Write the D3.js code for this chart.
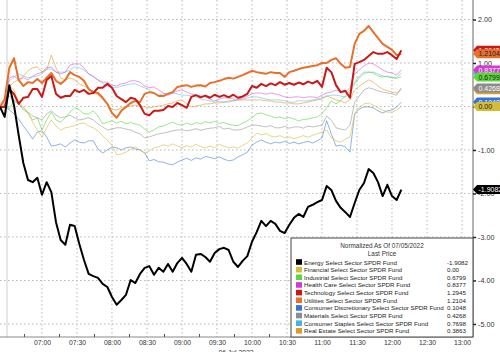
<!DOCTYPE html>
<html>
<head>
<meta charset="utf-8">
<script src="https://cdn.jsdelivr.net/npm/d3@7"></script>
<style>
body { margin: 0; background: #fff; }
text { font-family: "Liberation Sans", Arial, sans-serif; }
</style>
</head>
<body>
<div id="chart"></div>
<script>
const svgWidth = 500, svgHeight = 352;
const plotRight = 473, plotBottom = 337;

// one reading every 4 minutes starting 06:24 on 06 Jul 2022
const startHour = 6, startMin = 24, stepMinutes = 4;

const tickLabels = ["07:00","07:30","08:00","08:30","09:00","09:30","10:00","10:30","11:00","11:30","12:00","12:30","13:00"];
const yTicks = [2, 1, 0, -1, -2, -3, -4, -5];

const fundNames = [
    "Energy Select Sector SPDR Fund",
    "Financial Select Sector SPDR Fund",
    "Industrial Select Sector SPDR Fund",
    "Health Care Select Sector SPDR Fund",
    "Technology Select Sector SPDR Fund",
    "Utilities Select Sector SPDR Fund",
    "Consumer Discretionary Select Sector SPDR Fund",
    "Materials Select Sector SPDR Fund",
    "Consumer Staples Select Sector SPDR Fund",
    "Real Estate Select Sector SPDR Fund"
];
const lastPrices = ["-1.9082","0.00","0.6799","0.8377","1.2945","1.2104","0.1048","0.4268","0.7698","0.3863"];
const lastValues = [-1.9082, 0.00, 0.6799, 0.8377, 1.2945, 1.2104, 0.1048, 0.4268, 0.7698, 0.3863];

const energy = [-0.01,-0.24,0.49,0.03,-0.66,-1.30,-1.69,-1.74,-1.64,-2.03,
    -1.74,-1.97,-2.66,-3.07,-3.18,-2.72,-2.75,-3.16,-3.53,-3.85,
    -3.90,-3.94,-4.08,-4.15,-4.38,-4.56,-4.45,-4.33,-3.99,-4.06,
    -3.85,-3.71,-3.67,-3.87,-3.71,-3.80,-3.62,-3.80,-3.60,-3.48,
    -3.62,-3.80,-3.41,-3.39,-3.46,-3.57,-3.37,-3.28,-3.25,-3.30,
    -3.57,-3.69,-3.55,-3.44,-3.11,-2.89,-2.63,-2.75,-2.63,-2.70,
    -2.86,-2.91,-2.72,-2.56,-2.47,-2.54,-2.31,-2.26,-2.20,-2.15,
    -1.83,-1.92,-2.17,-2.33,-2.43,-2.54,-2.22,-1.92,-1.76,-1.44,
    -1.53,-1.74,-2.06,-1.80,-2.06,-2.15,-1.91];
const financial = [-0.01,0.15,0.47,0.38,0.10,-0.01,-0.15,-0.36,-0.54,-0.70,
    -0.49,-0.31,-0.45,-0.54,-0.49,-0.47,-0.44,-0.40,-0.38,-0.45,
    -0.49,-0.56,-0.68,-0.77,-0.89,-1.11,-1.09,-1.05,-0.98,-0.93,
    -1.00,-1.07,-1.02,-0.95,-0.93,-0.88,-0.91,-0.86,-0.91,-0.95,
    -0.90,-0.93,-0.87,-0.92,-0.95,-0.91,-0.95,-0.87,-0.91,-0.95,
    -0.93,-0.96,-0.89,-0.84,-0.72,-0.61,-0.65,-0.62,-0.68,-0.70,
    -0.67,-0.72,-0.70,-0.74,-0.71,-0.67,-0.71,-0.66,-0.63,-0.59,
    -0.54,-0.72,-0.79,-0.82,-0.75,-0.70,-0.17,-0.01,0.06,0.08,
    0.03,-0.03,-0.08,-0.13,-0.13,-0.08,0.00];
const industrial = [-0.01,0.08,-0.06,0.13,0.06,-0.08,-0.15,-0.31,-0.26,-0.54,
    -0.31,-0.13,-0.31,-0.36,-0.26,-0.13,-0.03,-0.08,-0.17,-0.17,
    -0.10,-0.22,-0.40,-0.36,-0.33,-0.38,-0.34,-0.40,-0.37,-0.40,
    -0.43,-0.52,-0.59,-0.54,-0.47,-0.45,-0.40,-0.36,-0.41,-0.43,
    -0.38,-0.42,-0.37,-0.40,-0.35,-0.38,-0.34,-0.39,-0.37,-0.41,
    -0.43,-0.44,-0.38,-0.33,-0.26,-0.17,-0.15,-0.19,-0.22,-0.26,
    -0.24,-0.28,-0.25,-0.29,-0.33,-0.30,-0.29,-0.26,-0.24,-0.17,
    -0.03,0.13,0.06,0.13,0.24,0.38,0.56,0.70,0.79,0.79,
    0.77,0.70,0.68,0.70,0.66,0.65,0.68];
const healthCare = [-0.01,0.15,0.66,0.70,0.61,0.66,0.61,0.70,0.75,0.79,
    0.89,0.91,0.79,0.75,0.79,0.95,0.98,0.98,0.89,0.75,
    0.68,0.61,0.56,0.56,0.49,0.47,0.52,0.54,0.59,0.59,
    0.56,0.47,0.43,0.45,0.38,0.31,0.26,0.31,0.36,0.38,
    0.33,0.29,0.26,0.24,0.22,0.17,0.13,0.17,0.20,0.20,
    0.17,0.17,0.20,0.24,0.29,0.31,0.31,0.28,0.31,0.29,
    0.26,0.22,0.20,0.22,0.22,0.20,0.22,0.22,0.20,0.26,
    0.31,0.33,0.38,0.33,0.33,0.43,0.75,0.84,0.93,1.00,
    0.98,0.91,0.84,0.79,0.77,0.72,0.84];
const technology = [-0.01,-0.01,0.40,0.29,0.06,0.20,0.22,0.40,0.40,0.22,
    0.61,0.70,0.29,0.20,0.24,0.24,0.38,0.33,0.38,0.29,
    0.31,0.43,0.43,0.52,0.43,0.24,0.17,0.10,0.20,0.17,
    0.03,-0.17,-0.20,-0.10,-0.10,-0.08,0.01,-0.01,0.08,0.03,
    -0.03,0.22,0.26,0.21,0.25,0.20,0.27,0.22,0.26,0.21,
    0.27,0.20,0.23,0.29,0.47,0.43,0.52,0.47,0.53,0.49,
    0.56,0.50,0.54,0.50,0.55,0.51,0.57,0.53,0.59,0.45,
    0.89,0.79,0.49,0.33,0.36,0.20,0.98,1.02,1.07,1.16,
    1.25,1.21,1.21,1.25,1.18,1.09,1.29];
const utilities = [-0.01,0.17,0.89,1.11,0.61,0.47,0.56,0.54,0.63,0.54,
    0.66,0.77,0.59,0.52,0.61,0.79,0.72,0.68,0.59,0.40,
    0.33,0.31,0.20,0.06,-0.15,-0.26,-0.10,-0.01,0.08,0.13,
    0.10,0.29,0.33,0.31,0.24,0.24,0.29,0.33,0.45,0.47,
    0.49,0.45,0.48,0.49,0.46,0.54,0.56,0.59,0.63,0.66,
    0.64,0.68,0.72,0.77,0.82,0.79,0.77,0.75,0.79,0.77,
    0.77,0.68,0.79,0.82,0.86,0.89,0.91,0.93,0.95,1.00,
    1.00,1.07,1.11,0.98,0.89,0.91,1.44,1.67,1.74,1.85,
    1.71,1.57,1.44,1.37,1.30,1.18,1.21];
const consumerDisc = [-0.01,0.03,-0.08,-0.17,-0.29,-0.45,-0.59,-0.75,-0.59,-0.56,
    -0.70,-0.91,-0.89,-0.86,-0.93,-0.84,-0.77,-0.82,-0.84,-0.79,
    -0.79,-0.98,-1.07,-1.00,-0.93,-0.95,-1.00,-0.95,-0.93,-0.98,
    -1.00,-1.07,-1.25,-1.22,-1.27,-1.28,-1.32,-1.34,-1.28,-1.23,
    -1.19,-1.24,-1.18,-1.21,-1.15,-1.17,-1.20,-1.16,-1.21,-1.25,
    -1.23,-1.16,-1.11,-1.05,-0.89,-0.82,-0.77,-0.82,-0.86,-0.82,
    -0.84,-0.80,-0.85,-0.82,-0.86,-0.83,-0.80,-0.84,-0.79,-0.72,
    -0.33,-0.63,-0.91,-0.89,-0.93,-1.05,-0.17,-0.06,-0.01,-0.01,
    -0.03,-0.10,-0.15,-0.10,-0.08,-0.01,0.10];
const materials = [-0.01,0.13,0.24,0.15,0.06,-0.03,-0.13,-0.22,-0.26,-0.31,
    -0.17,-0.10,-0.20,-0.26,-0.24,-0.20,-0.26,-0.31,-0.29,-0.26,
    -0.31,-0.40,-0.47,-0.54,-0.52,-0.49,-0.49,-0.52,-0.54,-0.59,
    -0.63,-0.72,-0.70,-0.66,-0.63,-0.61,-0.59,-0.56,-0.54,-0.54,
    -0.56,-0.54,-0.51,-0.55,-0.52,-0.50,-0.49,-0.46,-0.52,-0.50,
    -0.54,-0.54,-0.52,-0.47,-0.43,-0.43,-0.45,-0.47,-0.44,-0.49,
    -0.49,-0.46,-0.50,-0.47,-0.47,-0.50,-0.45,-0.47,-0.45,-0.43,
    -0.22,-0.31,-0.49,-0.52,-0.54,-0.43,0.10,0.24,0.38,0.43,
    0.40,0.36,0.33,0.31,0.29,0.26,0.43];
const consumerStaples = [-0.01,0.15,0.59,0.68,0.75,0.70,0.66,0.68,0.70,0.75,
    0.86,0.86,0.79,0.79,0.79,0.84,0.91,0.89,0.84,0.75,
    0.70,0.61,0.52,0.47,0.45,0.43,0.47,0.49,0.52,0.52,
    0.47,0.43,0.38,0.31,0.26,0.29,0.31,0.31,0.29,0.26,
    0.26,0.24,0.22,0.17,0.15,0.13,0.10,0.12,0.10,0.10,
    0.13,0.15,0.17,0.20,0.22,0.22,0.20,0.17,0.15,0.15,
    0.15,0.13,0.10,0.10,0.13,0.13,0.13,0.15,0.17,0.20,
    0.24,0.26,0.26,0.24,0.22,0.31,0.52,0.66,0.75,0.79,
    0.79,0.75,0.70,0.68,0.66,0.66,0.77];
const realEstate = [-0.01,0.15,0.47,0.56,0.61,0.70,0.82,0.89,0.91,0.79,
    0.84,1.18,0.89,0.66,0.61,0.66,0.61,0.52,0.47,0.40,
    0.33,0.26,0.17,0.06,-0.06,-0.08,-0.03,-0.01,0.01,0.03,
    0.01,-0.01,-0.03,-0.01,0.01,0.03,0.06,0.08,0.13,0.15,
    0.06,-0.01,0.01,0.03,0.06,0.06,0.08,0.08,0.10,0.13,
    0.13,0.15,0.15,0.15,0.15,0.15,0.15,0.13,0.13,0.10,
    0.10,0.08,0.08,0.06,0.06,0.08,0.10,0.13,0.15,0.17,
    0.24,0.20,0.15,0.13,0.08,0.15,0.38,0.47,0.54,0.61,
    0.56,0.47,0.40,0.36,0.33,0.31,0.39];

const seriesValues = [energy, financial, industrial, healthCare, technology, utilities,
    consumerDisc, materials, consumerStaples, realEstate];

// styling per fund (same order as fundNames)
const swatchColors = ["#000000","#d4bc3a","#5cd63c","#d03cd0","#c81818","#e8702a","#3474d4","#8c8c8c","#48b4e0","#e09a2a"];
const lineWidths   = [2, 1, 1, 1, 2, 2, 1, 1, 1, 1];
const lineOpacity  = [1, 0.6, 0.6, 0.5, 1, 1, 0.55, 0.55, 0.5, 0.6];
const tagText      = ["#fff","#222","#222","#fff","#fff","#222","#fff","#fff","#222","#222"];
const drawOrder    = [9, 8, 7, 6, 3, 2, 1, 5, 4, 0];
const tagOrder     = [4, 5, 8, 3, 2, 9, 7, 6, 1, 0];

const parseTime = d3.timeParse("%H:%M");
const day = t => { const p = parseTime(t); return new Date(2022, 6, 6, p.getHours(), p.getMinutes()); };
const times = energy.map((_, i) => new Date(2022, 6, 6, startHour, startMin + i * stepMinutes));

let svg = d3.select('#chart')
    .append('svg')
    .attr('width', svgWidth)
    .attr('height', svgHeight)
    .style('display', 'block');

svg.append('rect').attr('width', svgWidth).attr('height', svgHeight).attr('fill', '#fff');

// scales
let xScale = d3.scaleTime()
    .domain([new Date(2022, 6, 6, 6, 24), new Date(2022, 6, 6, 13, 9, 26)])
    .range([0, plotRight]);

let yScale = d3.scaleLinear()
    .domain([-5.3, 2.448])
    .range([plotBottom, 0]);

// grid
svg.append('g').selectAll('line')
    .data(yTicks)
    .join('line')
    .attr('x1', 0).attr('x2', plotRight)
    .attr('y1', d => yScale(d)).attr('y2', d => yScale(d))
    .attr('stroke', '#b8b8b8')
    .attr('stroke-dasharray', '1.5,2.5');

svg.append('g').selectAll('line')
    .data(tickLabels.map(day))
    .join('line')
    .attr('x1', d => xScale(d)).attr('x2', d => xScale(d))
    .attr('y1', 0).attr('y2', plotBottom)
    .attr('stroke', '#b8b8b8')
    .attr('stroke-dasharray', '1.5,2.5');

// session start marker
svg.append('line')
    .attr('x1', xScale(day("06:30"))).attr('x2', xScale(day("06:30")))
    .attr('y1', 0).attr('y2', plotBottom)
    .attr('stroke', '#cfcfcf');

// lines
let line = d3.line()
    .x((d, i) => xScale(times[i]))
    .y(d => yScale(d));

svg.append('g').selectAll('path')
    .data(drawOrder)
    .join('path')
    .attr('d', k => line(seriesValues[k]))
    .attr('fill', 'none')
    .attr('stroke', k => swatchColors[k])
    .attr('stroke-width', k => lineWidths[k])
    .attr('stroke-opacity', k => lineOpacity[k])
    .attr('stroke-linejoin', 'round');

// x axis
svg.append('line')
    .attr('x1', 0).attr('x2', plotRight)
    .attr('y1', plotBottom).attr('y2', plotBottom)
    .attr('stroke', '#8a8a8a');

let quarterTicks = d3.timeMinute.every(15).range(day("06:45"), day("13:05"))
    .filter(d => d.getMinutes() % 30 !== 0);
svg.append('g').selectAll('line')
    .data(quarterTicks)
    .join('line')
    .attr('x1', d => xScale(d)).attr('x2', d => xScale(d))
    .attr('y1', plotBottom).attr('y2', plotBottom - 3)
    .attr('stroke', '#555');

svg.append('g')
    .attr('transform', `translate(0,${plotBottom})`)
    .call(d3.axisBottom(xScale).tickValues(tickLabels.map(day)).tickFormat(d3.timeFormat("%H:%M")).tickSize(0).tickPadding(3))
    .call(g => g.select('.domain').remove())
    .selectAll('text')
    .attr('font-size', 6.8)
    .attr('fill', '#333')
    .style('font-family', '"Liberation Sans", Arial, sans-serif');

svg.append('text')
    .attr('x', 236).attr('y', 355)
    .attr('text-anchor', 'middle')
    .attr('font-size', 6.8)
    .attr('fill', '#333')
    .text('06 Jul 2022');

// right axis
svg.append('line')
    .attr('x1', plotRight).attr('x2', plotRight)
    .attr('y1', 0).attr('y2', plotBottom)
    .attr('stroke', '#9a9a9a')
    .attr('stroke-width', 1.5);

svg.append('g')
    .attr('transform', `translate(${plotRight},0)`)
    .call(d3.axisRight(yScale).tickValues(yTicks).tickFormat(d => d.toFixed(2)).tickSize(3).tickPadding(2))
    .call(g => g.select('.domain').remove())
    .call(g => g.selectAll('line').attr('stroke', '#222').attr('stroke-width', 1.5))
    .selectAll('text')
    .attr('font-size', 7.2)
    .attr('fill', '#333')
    .style('font-family', '"Liberation Sans", Arial, sans-serif');

// last value tags
let tags = svg.append('g').selectAll('g')
    .data(tagOrder)
    .join('g')
    .attr('transform', k => `translate(${plotRight},${yScale(lastValues[k])})`);

tags.append('path')
    .attr('d', 'M0,0 L4,-4.5 L30,-4.5 L30,4.5 L4,4.5 Z')
    .attr('fill', k => swatchColors[k]);

tags.append('text')
    .attr('x', 5.5).attr('y', 2.6)
    .attr('font-size', 7)
    .attr('fill', k => tagText[k])
    .text(k => lastPrices[k]);

// legend
let legend = svg.append('g').attr('transform', 'translate(291,238)');

legend.append('rect')
    .attr('width', 182).attr('height', 99)
    .attr('fill', '#fff')
    .attr('stroke', '#444');

legend.append('text')
    .attr('x', 91).attr('y', 10)
    .attr('text-anchor', 'middle')
    .attr('font-size', 6.4)
    .attr('fill', '#333')
    .text('Normalized As Of 07/05/2022');

legend.append('text')
    .attr('x', 91).attr('y', 18)
    .attr('text-anchor', 'middle')
    .attr('font-size', 6.4)
    .attr('fill', '#333')
    .text('Last Price');

let rows = legend.selectAll('g.row')
    .data(fundNames)
    .join('g')
    .attr('class', 'row')
    .attr('transform', (d, i) => `translate(0,${26.5 + i * 7.65})`);

rows.append('rect')
    .attr('x', 5).attr('y', -5.3)
    .attr('width', 6).attr('height', 5.6)
    .attr('fill', (d, i) => swatchColors[i]);

rows.append('text')
    .attr('x', 13).attr('y', 0)
    .attr('font-size', 6.2)
    .attr('fill', '#222')
    .text(d => d);

rows.append('text')
    .attr('x', 156).attr('y', 0)
    .attr('font-size', 6.2)
    .attr('fill', '#222')
    .text((d, i) => lastPrices[i]);
</script>
</body>
</html>
